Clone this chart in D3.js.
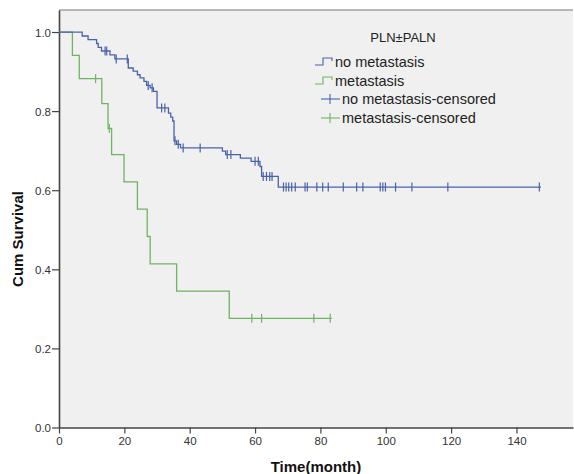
<!DOCTYPE html>
<html>
<head>
<meta charset="utf-8">
<script src="https://cdn.jsdelivr.net/npm/d3@7/dist/d3.min.js"></script>
<style>
  body { margin: 0; background: #fff; }
  text { font-family: Arial, "Liberation Sans", sans-serif; }
</style>
</head>
<body>
<div id="wrapper"></div>
<script>
// data
const xTicks = [0, 20, 40, 60, 80, 100, 120, 140];
const yTicks = [0.0, 0.2, 0.4, 0.6, 0.8, 1.0];
const groupTitle = 'PLN\u00b1PALN';
const groupNames = ['no metastasis', 'metastasis'];

// no metastasis: step times / survival after step
const noMetTimes = [0, 7.1, 8.9, 11.5, 12.0, 13.0, 15.6, 17.1, 21.2, 22.7, 24.0, 24.8, 26.0, 26.8, 27.9, 28.9,
  30.0, 33.5, 34.2, 34.8, 35.2, 36.0, 37.2, 50.0, 51.0, 55.5, 58.8, 61.5, 62.0, 67.1];
const noMetSurv = [1.0, 0.990, 0.981, 0.971, 0.961, 0.952, 0.942, 0.932, 0.909, 0.901, 0.892, 0.884, 0.875, 0.865, 0.859, 0.850,
  0.808, 0.795, 0.785, 0.775, 0.725, 0.716, 0.707, 0.699, 0.690, 0.681, 0.673, 0.660, 0.635, 0.608];
const noMetEnd = 147.5;
const noMetCensored = [14.1, 14.6, 17.5, 20.9, 27.3, 28.5, 31.4, 32.4, 35.5, 36.5, 38, 43.2, 51.5, 52.6, 60, 61,
  62.5, 63.5, 64.5, 65.2, 68.7, 69.5, 70.3, 71.2, 72.3, 75.3, 76, 78.9, 80.7, 82.4, 87, 91.1, 93,
  98.3, 99.1, 99.9, 103, 108, 119, 147];

// metastasis
const metTimes = [0, 4.1, 6.2, 13.1, 15.0, 16.1, 19.9, 24.0, 27.0, 27.9, 36.0, 52.1];
const metSurv = [1.0, 0.941, 0.882, 0.819, 0.756, 0.690, 0.621, 0.552, 0.483, 0.414, 0.345, 0.276];
const metEnd = 83.5;
const metCensored = [11.2, 15.4, 59, 62, 78, 83];

const colors = ['#4a62a9', '#6fb462'];

// dimensions
const width = 574;
const height = 474;
const plot = { left: 59, right: 573, top: 10, bottom: 427.5 };

const svg = d3.select('#wrapper').append('svg')
  .attr('width', width)
  .attr('height', height);

const xScale = d3.scaleLinear().domain([0, 157.3]).range([plot.left, plot.right]);
const yScale = d3.scaleLinear().domain([0, 1.0557]).range([plot.bottom, plot.top]);

// plot background + top border
svg.append('rect')
  .attr('x', plot.left).attr('y', plot.top)
  .attr('width', plot.right - plot.left).attr('height', plot.bottom - plot.top)
  .attr('fill', '#f0f0f0');
svg.append('line')
  .attr('x1', plot.left).attr('x2', plot.right)
  .attr('y1', plot.top).attr('y2', plot.top)
  .attr('stroke', '#777').attr('stroke-width', 1);

// axes
const xAxis = svg.append('g')
  .attr('transform', `translate(0,${plot.bottom})`)
  .call(d3.axisBottom(xScale).tickValues(xTicks).tickSize(6).tickSizeOuter(0).tickPadding(3));
const yAxis = svg.append('g')
  .attr('transform', `translate(${plot.left},0)`)
  .call(d3.axisLeft(yScale).tickValues(yTicks).tickFormat(d3.format('.1f')).tickSize(7).tickSizeOuter(0).tickPadding(1));

[xAxis, yAxis].forEach((ax) => {
  ax.select('.domain').attr('stroke', '#444').attr('stroke-width', 1.6);
  ax.selectAll('.tick line').attr('stroke', '#444').attr('stroke-width', 1.2);
  ax.selectAll('.tick text')
    .attr('fill', '#333')
    .style('font-size', '11.5px')
    .style('font-family', 'Arial, "Liberation Sans", sans-serif');
});
yAxis.selectAll('.tick text').attr('dy', '0.35em');

// axis titles
svg.append('text')
  .attr('x', (plot.left + plot.right) / 2)
  .attr('y', 472)
  .attr('text-anchor', 'middle')
  .style('font-size', '15px')
  .style('font-weight', 'bold')
  .attr('fill', '#111')
  .text('Time(month)');
svg.append('text')
  .attr('transform', 'translate(23,239) rotate(-90)')
  .attr('text-anchor', 'middle')
  .style('font-size', '15px')
  .style('font-weight', 'bold')
  .attr('fill', '#111')
  .text('Cum Survival');

// survival curves
const series = [
  { times: noMetTimes, surv: noMetSurv, end: noMetEnd, censored: noMetCensored, color: colors[0] },
  { times: metTimes, surv: metSurv, end: metEnd, censored: metCensored, color: colors[1] },
];

const stepLine = d3.line()
  .x((d) => xScale(d[0]))
  .y((d) => yScale(d[1]))
  .curve(d3.curveStepAfter);

const survivalAt = (s, t) => s.surv[Math.max(0, d3.bisectRight(s.times, t) - 1)];

// draw the metastasis curve first so the blue sits on top
[...series].reverse().forEach((s) => {
  const pts = s.times.map((t, i) => [t, s.surv[i]]);
  pts.push([s.end, s.surv[s.surv.length - 1]]);
  svg.append('path')
    .attr('d', stepLine(pts))
    .attr('fill', 'none')
    .attr('stroke', s.color)
    .attr('stroke-width', 1.3);

  svg.append('g').selectAll('line')
    .data(s.censored)
    .join('line')
    .attr('x1', (d) => xScale(d))
    .attr('x2', (d) => xScale(d))
    .attr('y1', (d) => yScale(survivalAt(s, d)) - 4.5)
    .attr('y2', (d) => yScale(survivalAt(s, d)) + 4.5)
    .attr('stroke', s.color)
    .attr('stroke-width', 1.2);
});

// legend
const legend = svg.append('g');
legend.append('text')
  .attr('x', 403).attr('y', 42)
  .attr('text-anchor', 'middle')
  .style('font-size', '13px')
  .attr('fill', '#222')
  .text(groupTitle);

const legendRows = [62, 81, 99, 118];
groupNames.forEach((name, i) => {
  const y = legendRows[i];
  legend.append('path')
    .attr('d', `M315,${y + 3}H323V${y - 4}H332V${y - 1}`)
    .attr('fill', 'none')
    .attr('stroke', colors[i])
    .attr('stroke-width', 1.1);
  legend.append('text')
    .attr('x', 335).attr('y', y + 5)
    .style('font-size', '14.5px')
    .attr('fill', '#222')
    .text(name);
});
groupNames.forEach((name, i) => {
  const y = legendRows[i + 2];
  legend.append('line')
    .attr('x1', 321).attr('x2', 340).attr('y1', y).attr('y2', y)
    .attr('stroke', colors[i]).attr('stroke-width', 1.1);
  legend.append('line')
    .attr('x1', 330).attr('x2', 330).attr('y1', y - 5).attr('y2', y + 5)
    .attr('stroke', colors[i]).attr('stroke-width', 1.1);
  legend.append('text')
    .attr('x', 342).attr('y', y + 5)
    .style('font-size', '14.5px')
    .attr('fill', '#222')
    .text(`${name}-censored`);
});
</script>
</body>
</html>
